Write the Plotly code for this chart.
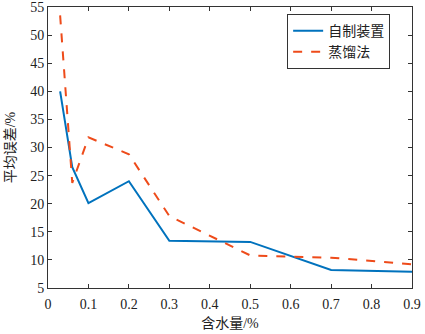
import plotly.graph_objects as go

x_self = [0.03, 0.06, 0.1, 0.2, 0.3, 0.5, 0.7, 0.9]
y_self = [40.0, 26.5, 20.1, 24.0, 13.4, 13.2, 8.2, 7.9]
x_dist = [0.03, 0.06, 0.1, 0.2, 0.3, 0.5, 0.6, 0.7, 0.9]
y_dist = [53.5, 23.7, 31.8, 28.8, 17.8, 10.8, 10.6, 10.4, 9.2]
name_self = "自制装置"
name_dist = "蒸馏法"
xticks = [0, 0.1, 0.2, 0.3, 0.4, 0.5, 0.6, 0.7, 0.8, 0.9]
xticklabels = ["0", "0.1", "0.2", "0.3", "0.4", "0.5", "0.6", "0.7", "0.8", "0.9"]
yticks = [5, 10, 15, 20, 25, 30, 35, 40, 45, 50, 55]

font = "Liberation Serif, Times New Roman, Noto Sans CJK SC, serif"

fig = go.Figure()
fig.add_trace(go.Scatter(x=x_self, y=y_self, mode="lines", name=name_self,
                         line=dict(color="#0072BD", width=2)))
fig.add_trace(go.Scatter(x=x_dist, y=y_dist, mode="lines", name=name_dist,
                         line=dict(color="#EE4B1A", width=2, dash="dash")))

axis_common = dict(showgrid=False, zeroline=False, showline=True, linecolor="#333333",
                   linewidth=1, mirror="ticks", ticks="inside", ticklen=4, automargin=False,
                   ticklabeloverflow="allow",
                   tickcolor="#333333", tickfont=dict(family=font, size=14, color="#222"))

fig.update_xaxes(range=[0, 0.9], tickvals=xticks, ticktext=xticklabels, ticklabelstandoff=3,
                 title=dict(text="含水量/%", font=dict(family=font, size=14, color="#222"), standoff=7),
                 **axis_common)
fig.update_yaxes(range=[5, 55], tickvals=yticks,
                 title=dict(text="平均误差/%", font=dict(family=font, size=14, color="#222"), standoff=11),
                 **axis_common)

fig.update_layout(
    width=425, height=334,
    margin=dict(l=48, r=13, t=7, b=46),
    paper_bgcolor="white", plot_bgcolor="white",
    showlegend=True,
    legend=dict(x=0.657, y=0.975, xanchor="left", yanchor="top",
                bordercolor="#333333", borderwidth=1, bgcolor="white",
                font=dict(family=font, size=14, color="#222"),
                tracegroupgap=0, itemwidth=30, entrywidth=79, entrywidthmode="pixels"),
)

fig.write_html("out.html", config={"displayModeBar": False},
               post_script="document.body.style.margin='0';document.body.style.padding='0';")
